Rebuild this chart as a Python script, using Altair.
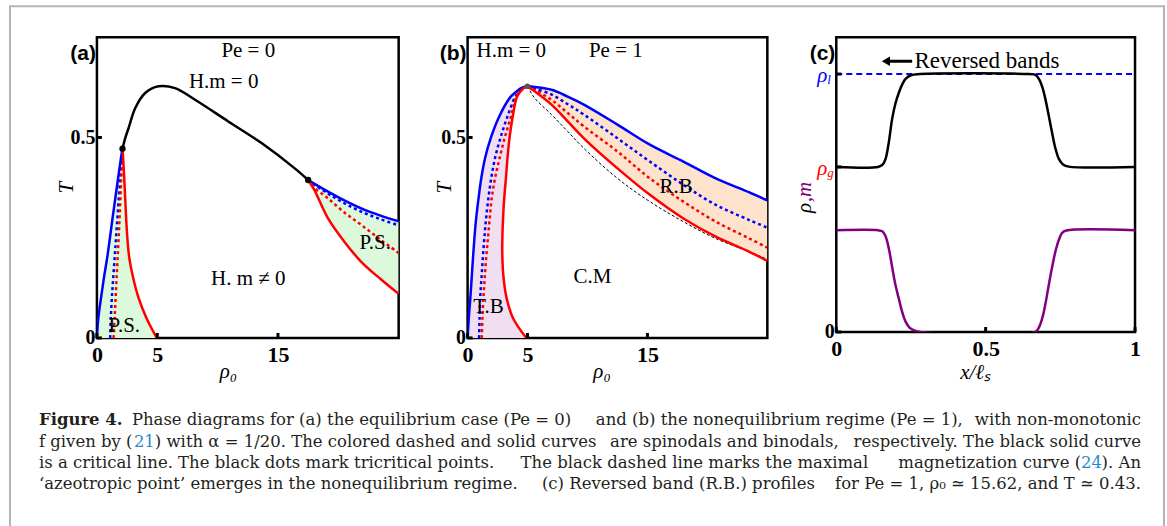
import altair as alt
import pandas as pd

SERIF = "Liberation Serif"
CAPF = "DejaVu Serif"
SANS = "Liberation Sans"
BLUE = "#0000ff"
RED = "#ff0000"
PURPLE = "#800080"
GREEN_FILL = "#dcf9dc"
PURPLE_FILL = "#efdff0"
ORANGE_FILL = "#fde3cb"
LINK = "#2a8ac8"

# ---------------- Panel (a): Pe = 0 ----------------
a_crit_rho = [2.12, 2.34, 2.62, 3.17, 4.0, 5.1, 6.47, 8.13, 10.88, 13.64, 16.39, 17.5]
a_crit_T = [0.472, 0.498, 0.523, 0.573, 0.611, 0.6275, 0.623, 0.594, 0.54, 0.486, 0.423, 0.394]
a_tc_rho = [2.12, 17.5]
a_tc_T = [0.472, 0.394]

a_left_T = [0, 0.05, 0.1, 0.15, 0.2, 0.25, 0.3, 0.35, 0.4, 0.45, 0.472]
a_left_blue_bin = [0, 0.12, 0.34, 0.58, 0.85, 1.08, 1.3, 1.53, 1.76, 2.0, 2.12]
a_left_red_bin = [4.96, 4.1, 3.45, 3.0, 2.68, 2.52, 2.42, 2.34, 2.26, 2.17, 2.12]
a_left_blue_spin = [1.1, 1.15, 1.24, 1.35, 1.47, 1.58, 1.7, 1.81, 1.93, 2.04, 2.1]
a_left_red_spin = [1.38, 1.47, 1.55, 1.63, 1.72, 1.8, 1.88, 1.95, 2.02, 2.09, 2.12]

a_right_rho = [17.5, 18.0, 19.15, 20.5, 21.9, 23.5, 25.0]
a_right_blue_bin = [0.394, 0.385, 0.365, 0.343, 0.323, 0.305, 0.291]
a_right_blue_spin = [0.394, 0.383, 0.36, 0.336, 0.315, 0.296, 0.281]
a_right_red_spin = [0.394, 0.375, 0.348, 0.313, 0.282, 0.245, 0.212]
a_right_red_bin = [0.394, 0.37, 0.298, 0.24, 0.19, 0.147, 0.11]

a_text = ["Pe = 0", "H.m = 0", "H. m ≠ 0", "P.S.", "P.S."]
a_text_rho = [12.54, 10.5, 12.54, 2.27, 23.06]
a_text_T = [0.715, 0.6375, 0.148, 0.031, 0.236]

# ---------------- Panel (b): Pe = 1 ----------------
b_left_T = [0, 0.05, 0.1, 0.15, 0.2, 0.25, 0.3, 0.35, 0.4, 0.45, 0.5, 0.55, 0.6, 0.615, 0.6235, 0.6275]
b_left_blue_bin = [0, 0.1, 0.23, 0.34, 0.45, 0.57, 0.72, 0.92, 1.15, 1.47, 1.95, 2.6, 3.55, 4.1, 4.5, 4.99]
b_left_red_bin = [4.9, 3.78, 3.25, 3.0, 2.9, 2.9, 2.96, 3.06, 3.2, 3.33, 3.5, 3.75, 4.1, 4.4, 4.7, 4.99]
b_left_blue_spin = [0.96, 1.0, 1.05, 1.16, 1.27, 1.4, 1.55, 1.74, 1.98, 2.3, 2.75, 3.3, 3.95, 4.35, 4.7, 4.99]
b_left_red_spin = [1.18, 1.24, 1.32, 1.43, 1.55, 1.7, 1.85, 2.02, 2.3, 2.68, 3.1, 3.6, 4.05, 4.4, 4.72, 4.99]

b_right_rho = [4.99, 5.6, 7.0, 8.35, 9.7, 12.5, 15.2, 18.0, 20.7, 23.5, 25.0]
b_right_blue_bin = [0.6275, 0.626, 0.619, 0.602, 0.582, 0.532, 0.482, 0.44, 0.398, 0.363, 0.343]
b_right_blue_spin = [0.6275, 0.622, 0.607, 0.583, 0.557, 0.498, 0.44, 0.382, 0.332, 0.294, 0.275]
b_right_red_spin = [0.6275, 0.618, 0.594, 0.561, 0.5275, 0.465, 0.398, 0.34, 0.29, 0.248, 0.225]
b_right_red_bin = [0.6275, 0.615, 0.582, 0.54, 0.498, 0.423, 0.357, 0.298, 0.2525, 0.215, 0.192]
b_maxmag_T = [0.6275, 0.598, 0.557, 0.515, 0.473, 0.398, 0.34, 0.29, 0.248, 0.215, 0.196]
b_azeo_rho = [4.99]
b_azeo_T = [0.6275]

b_text = ["H.m = 0", "Pe = 1", "R.B", "C.M", "T.B"]
b_text_rho = [3.64, 12.36, 17.4, 10.41, 1.74]
b_text_T = [0.715, 0.715, 0.376, 0.151, 0.0775]

# ---------------- Panel (c): reversed band profile ----------------
RHO_G = 11.2
RHO_L = 17.5
c_x_rho = [0, 0.14, 0.155, 0.165, 0.176, 0.187, 0.198, 0.21, 0.222, 0.232, 0.25, 0.28,
           0.645, 0.667, 0.68, 0.69, 0.70, 0.71, 0.722, 0.733, 0.745, 0.76, 0.778, 1.0]
c_rho = [11.2, 11.2, 11.35, 11.75, 12.9, 14.46, 15.5, 16.27, 16.85, 17.17, 17.42, 17.5,
         17.5, 17.45, 17.1, 16.6, 15.8, 14.8, 13.56, 12.5, 11.75, 11.35, 11.22, 11.2]
c_x_m = [0, 0.14, 0.155, 0.165, 0.176, 0.187, 0.198, 0.21, 0.22, 0.232, 0.245, 0.265, 0.28,
         0.665, 0.678, 0.689, 0.70, 0.711, 0.722, 0.733, 0.745, 0.756, 0.77, 1.0]
c_m = [6.9, 6.9, 6.82, 6.5, 5.65, 4.4, 3.2, 2.2, 1.4, 0.7, 0.3, 0.08, 0,
       0, 0.3, 0.9, 1.9, 3.16, 4.35, 5.42, 6.25, 6.72, 6.88, 6.9]
c_arrow_x = [0.254, 0.17]
c_arrow_head_x = [0.166]
c_arrow_y = [18.37]
c_label_x = [0.262]

# ---------------- caption (pieces placed left / centre / right to mimic justification) ----------------
CAP_BOLD = "Figure 4."
CAP_L1 = ["Phase diagrams for (a) the equilibrium case (Pe = 0)",
          "and (b) the nonequilibrium regime (Pe = 1),",
          "with non-monotonic"]
CAP_L2 = ["f given by (", "21",
          ") with α = 1/20. The colored dashed and solid curves",
          "are spinodals and binodals,",
          "respectively. The black solid curve"]
CAP_L3 = ["is a critical line. The black dots mark tricritical points.",
          "The black dashed line marks the maximal",
          "magnetization curve (", "24", "). An"]
CAP_L4 = ["‘azeotropic point’ emerges in the nonequilibrium regime.",
          "(c) Reversed band (R.B.) profiles",
          "for Pe = 1, ρ₀ ≃ 15.62, and T ≃ 0.43."]
CAP_SIZE = 16.5


def dfxy(xs, ys):
    return pd.DataFrame({"x": xs, "y": ys, "i": list(range(len(xs)))})


def one(t):
    return pd.DataFrame({"t": [t]})


class Panel:
    def __init__(self, xdom, ydom, xaxis, yaxis, w, h):
        self.xs = alt.Scale(domain=xdom, nice=False, zero=False)
        self.ys = alt.Scale(domain=ydom, nice=False, zero=False)
        self.xaxis = xaxis
        self.yaxis = yaxis
        self.w = w
        self.h = h
        self.layers = []

    def X(self, f="x"):
        return alt.X(f"{f}:Q", scale=self.xs, axis=self.xaxis)

    def Y(self, f="y"):
        return alt.Y(f"{f}:Q", scale=self.ys, axis=self.yaxis)

    def line(self, xs, ys, color, width=2.5, dash=None):
        kw = dict(color=color, strokeWidth=width, clip=True, interpolate="catmull-rom")
        if dash:
            kw["strokeDash"] = dash
        self.layers.append(
            alt.Chart(dfxy(xs, ys)).mark_line(**kw).encode(x=self.X(), y=self.Y(), order="i:Q"))

    def hfill(self, ys, x1, x2, color):
        df = pd.DataFrame({"y": ys, "x": x1, "x2": x2})
        self.layers.append(
            alt.Chart(df).mark_area(color=color, orient="horizontal", clip=True,
                                    interpolate="catmull-rom")
            .encode(y=self.Y(), x=self.X(), x2="x2:Q"))

    def vfill(self, xs, y1, y2, color):
        df = pd.DataFrame({"x": xs, "y": y1, "y2": y2})
        self.layers.append(
            alt.Chart(df).mark_area(color=color, orient="vertical", clip=True,
                                    interpolate="catmull-rom")
            .encode(x=self.X(), y=self.Y(), y2="y2:Q"))

    def texts(self, xs, ys, labels, size=21, color="black", **kw):
        df = pd.DataFrame({"x": xs, "y": ys, "t": labels})
        self.layers.append(
            alt.Chart(df).mark_text(font=SERIF, fontSize=size, color=color, **kw)
            .encode(x=self.X(), y=self.Y(), text="t:N"))

    def ticks(self, xv, yv):
        self.layers.append(
            alt.Chart(pd.DataFrame({"x": xv})).mark_rule(color="black", strokeWidth=3)
            .encode(x=self.X(), y=alt.value(self.h), y2=alt.value(self.h - 5)))
        self.layers.append(
            alt.Chart(pd.DataFrame({"y": yv})).mark_rule(color="black", strokeWidth=3)
            .encode(y=self.Y(), x=alt.value(0), x2=alt.value(5)))

    def label(self, t):
        self.layers.append(
            alt.Chart(one(t)).mark_text(font=SANS, fontWeight="bold", fontSize=21,
                                        align="right", baseline="middle")
            .encode(x=alt.value(-1), y=alt.value(17), text="t:N"))

    def cap(self, t, x, y, align="left", color="#231f20", **kw):
        self.layers.append(
            alt.Chart(one(t)).mark_text(font=CAPF, fontSize=CAP_SIZE, color=color,
                                        baseline="alphabetic", align=align, **kw)
            .encode(x=alt.value(x), y=alt.value(y), text="t:N"))

    def chart(self):
        return alt.layer(*self.layers).properties(width=self.w, height=self.h)


# ---------- axes ----------
def xaxis(vals, title, tx, ty=34):
    return alt.Axis(values=vals, title=title, titleX=tx, titleY=ty, titleAngle=0,
                    titleAlign="center", titleBaseline="middle", labelPadding=7,
                    labelFontSize=22, labelExpr="'' + datum.value")


def yaxis(vals, title, tx, ty, expr="'' + datum.value"):
    kw = dict(values=vals, labelPadding=2, labelFontSize=20, labelExpr=expr)
    if title:
        kw.update(title=title, titleX=tx, titleY=ty, titleAngle=270, titleAlign="center",
                  titleBaseline="middle")
    else:
        kw.update(title=None)
    return alt.Axis(**kw)


# ---------- Panel (a) ----------
WA, HA = 302, 301
pa = Panel([0, 25], [0, 0.75], xaxis([0, 5, 15], "ρ₀", 131), yaxis([0, 0.5], "T", -30, 150), WA, HA)
# figure border and caption live in the first panel's layer
pa.layers.append(
    alt.Chart(one("")).mark_rect(fill="transparent", stroke="#b4b4b4", strokeWidth=2)
    .encode(x=alt.value(-87), x2=alt.value(1068), y=alt.value(-31), y2=alt.value(560)))
pa.hfill(a_left_T, a_left_blue_bin, a_left_red_bin, GREEN_FILL)
pa.vfill(a_right_rho, a_right_blue_bin, a_right_red_bin, GREEN_FILL)
pa.line(a_left_blue_spin, a_left_T, BLUE, dash=[3, 3])
pa.line(a_left_red_spin, a_left_T, RED, dash=[3, 3])
pa.line(a_right_rho, a_right_blue_spin, BLUE, dash=[3, 3])
pa.line(a_right_rho, a_right_red_spin, RED, dash=[3, 3])
pa.line(a_left_blue_bin, a_left_T, BLUE)
pa.line(a_left_red_bin, a_left_T, RED)
pa.line(a_right_rho, a_right_blue_bin, BLUE)
pa.line(a_right_rho, a_right_red_bin, RED)
pa.line(a_crit_rho, a_crit_T, "black")
pa.layers.append(
    alt.Chart(dfxy(a_tc_rho, a_tc_T)).mark_circle(color="black", size=40, opacity=1)
    .encode(x=pa.X(), y=pa.Y()))
pa.texts(a_text_rho, a_text_T, a_text)
pa.ticks([0, 5, 15], [0, 0.5])
pa.label("(a)")

# caption: left margin at x=-58, right margin at x=1045 (relative to panel (a))
L, R = -58, 1045
pa.cap(CAP_BOLD, L, 388, fontWeight="bold")
pa.cap(CAP_L1[0], 35, 388)
pa.cap(CAP_L1[1], 683, 388, align="center")
pa.cap(CAP_L1[2], R, 388, align="right")
pa.cap(CAP_L2[0], L, 410)
pa.cap(CAP_L2[1], 37, 410, color=LINK)
pa.cap(CAP_L2[2], 58, 410)
pa.cap(CAP_L2[3], 628, 410, align="center")
pa.cap(CAP_L2[4], R, 410, align="right")
pa.cap(CAP_L3[0], L, 431)
pa.cap(CAP_L3[1], 598, 431, align="center")
pa.cap(CAP_L3[2], 985, 431, align="right")
pa.cap(CAP_L3[3], 1006, 431, align="right", color=LINK)
pa.cap(CAP_L3[4], R, 431, align="right")
pa.cap(CAP_L4[0], L, 452)
pa.cap(CAP_L4[1], 582, 452, align="center")
pa.cap(CAP_L4[2], R, 452, align="right")

# ---------- Panel (b) ----------
WB, HB = 300, 301
pb = Panel([0, 25], [0, 0.75], xaxis([0, 5, 15], "ρ₀", 134), yaxis([0, 0.5], "T", -23, 150), WB, HB)
pb.hfill(b_left_T, b_left_blue_bin, b_left_red_bin, PURPLE_FILL)
pb.vfill(b_right_rho, b_right_blue_bin, b_right_red_bin, ORANGE_FILL)
pb.line(b_right_rho, b_maxmag_T, "black", width=1, dash=[3, 2])
pb.line(b_left_blue_spin, b_left_T, BLUE, dash=[3, 3])
pb.line(b_left_red_spin, b_left_T, RED, dash=[3, 3])
pb.line(b_right_rho, b_right_blue_spin, BLUE, dash=[3, 3])
pb.line(b_right_rho, b_right_red_spin, RED, dash=[3, 3])
pb.line(b_left_blue_bin, b_left_T, BLUE)
pb.line(b_left_red_bin, b_left_T, RED)
pb.line(b_right_rho, b_right_blue_bin, BLUE)
pb.line(b_right_rho, b_right_red_bin, RED)
pb.layers.append(
    alt.Chart(dfxy(b_azeo_rho, b_azeo_T)).mark_circle(color="#555555", size=30, opacity=1)
    .encode(x=pb.X(), y=pb.Y()))
pb.texts(b_text_rho, b_text_T, b_text)
pb.ticks([0, 5, 15], [0, 0.5])
pb.label("(b)")

# ---------- Panel (c) ----------
WC, HC = 299, 295
pc = Panel([0, 1], [0, 20], xaxis([0, 0.5, 1], "x/ℓₛ", 139, 41),
           yaxis([0, RHO_G, RHO_L], None, 0, 0, expr="datum.value == 0 ? '0' : ''"), WC, HC)
pc.line([0, 1], [RHO_L, RHO_L], BLUE, width=2, dash=[6, 4])
pc.line(c_x_rho, c_rho, "black")
pc.line(c_x_m, c_m, PURPLE)
pc.layers.append(
    alt.Chart(pd.DataFrame({"x": [c_arrow_x[0]], "x2": [c_arrow_x[1]], "y": c_arrow_y}))
    .mark_rule(color="black", strokeWidth=3).encode(x=pc.X(), x2="x2:Q", y=pc.Y()))
pc.layers.append(
    alt.Chart(dfxy(c_arrow_head_x, c_arrow_y))
    .mark_point(shape="triangle-left", filled=True, color="black", size=90, opacity=1)
    .encode(x=pc.X(), y=pc.Y()))
pc.texts(c_label_x, c_arrow_y, ["Reversed bands"], size=23, align="left", baseline="middle")
pc.ticks([0, 0.5, 1], [0, RHO_G, RHO_L])
for val, sub, col in [(RHO_L, "l", BLUE), (RHO_G, "g", RED)]:
    df = pd.DataFrame({"y": [val], "t": ["ρ"], "s": [sub]})
    pc.layers.append(
        alt.Chart(df).mark_text(font=SERIF, fontStyle="italic", fontSize=21, color=col,
                                align="right", baseline="middle", dy=2)
        .encode(x=alt.value(-9), y=pc.Y(), text="t:N"))
    pc.layers.append(
        alt.Chart(df).mark_text(font=SERIF, fontStyle="italic", fontSize=13, color=col,
                                align="left", baseline="middle", dy=6)
        .encode(x=alt.value(-9), y=pc.Y(), text="s:N"))
pc.layers.append(
    alt.Chart(one("ρ")).mark_text(font=SERIF, fontStyle="italic", fontSize=21, color="black",
                                  angle=270, align="center", baseline="middle")
    .encode(x=alt.value(-31), y=alt.value(171), text="t:N"))
pc.layers.append(
    alt.Chart(one(",m")).mark_text(font=SERIF, fontStyle="italic", fontSize=21, color=PURPLE,
                                   angle=270, align="center", baseline="middle")
    .encode(x=alt.value(-31), y=alt.value(155), text="t:N"))
pc.label("(c)")

chart = (
    alt.hconcat(pa.chart(), pb.chart(), pc.chart(), spacing=69, bounds="flush")
    .properties(padding={"left": 7, "top": 3, "right": 0, "bottom": 0}, background="white")
    .configure_view(stroke="black", strokeWidth=2.5)
    .configure_axis(domain=False, ticks=False, grid=False, labelFont=SERIF,
                    labelFontWeight="bold", labelColor="black",
                    labelFlush=False, labelOverlap=False,
                    titleFont=SERIF, titleFontSize=21, titleFontWeight="normal",
                    titleFontStyle="italic", titleColor="black")
)

chart.save("out.html", embed_options={"renderer": "svg", "actions": False})
